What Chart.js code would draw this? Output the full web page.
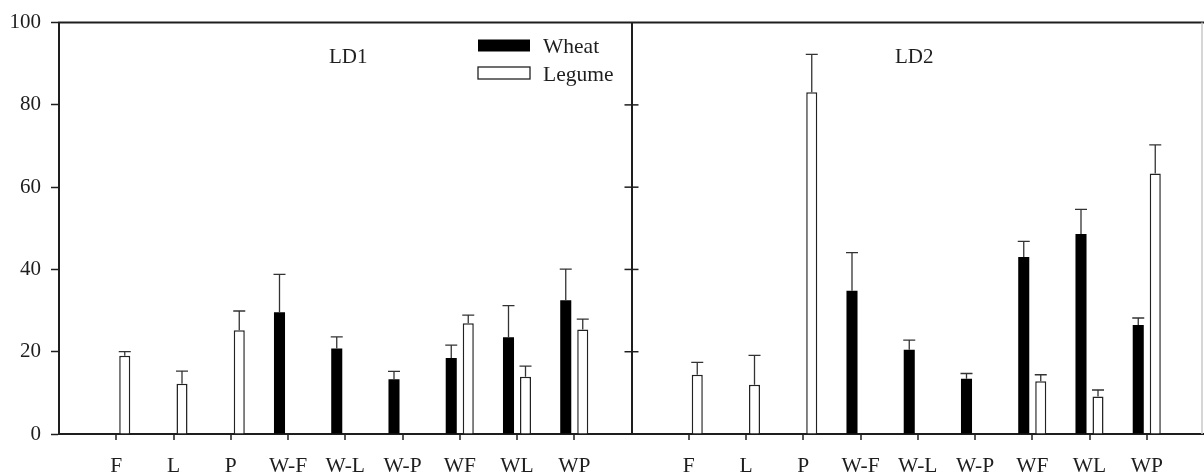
<!DOCTYPE html>
<html>
<head>
<meta charset="utf-8">
<script src="https://cdn.jsdelivr.net/npm/chart.js@4"></script>
<style>
  html, body { margin: 0; padding: 0; background: #fff; }
  #wrap { width: 1204px; height: 473px; }
</style>
</head>
<body>
<div id="wrap"><canvas id="chart"></canvas></div>
<script>
const treatments = ["F", "L", "P", "W-F", "W-L", "W-P", "WF", "WL", "WP"];
const yTicks = [0, 20, 40, 60, 80, 100];
const panels = ["LD1", "LD2"];

// LD1 means and standard errors
const ld1Wheat = [null, null, null, 29.6, 20.8, 13.3, 18.5, 23.5, 32.5];
const ld1WheatSE = [null, null, null, 9.2, 2.8, 1.9, 3.1, 7.7, 7.6];
const ld1Legume = [19.0, 12.2, 25.2, null, null, null, 26.9, 13.9, 25.4];
const ld1LegumeSE = [1.0, 3.1, 4.7, null, null, null, 2.0, 2.6, 2.5];

// LD2 means and standard errors
const ld2Wheat = [null, null, null, 34.8, 20.5, 13.4, 43.0, 48.6, 26.5];
const ld2WheatSE = [null, null, null, 9.3, 2.3, 1.3, 3.8, 6.0, 1.7];
const ld2Legume = [14.4, 12.0, 83.1, null, null, null, 12.8, 9.1, 63.3];
const ld2LegumeSE = [3.0, 7.1, 9.2, null, null, null, 1.6, 1.6, 7.0];

// both panels share one axis: blank slot, LD1, blank divider, LD2, blank slot
const join = (a, b) => [null, ...a, null, ...b, null];
const labels = ["", ...treatments, "", ...treatments, ""];

const ink = "#1e1e1e";
const serif = "Liberation Serif";

const extras = {
    id: "extras",
    afterDatasetsDraw(chart) {
        const ctx = chart.ctx;
        const area = chart.chartArea;
        const x = chart.scales.x;
        const y = chart.scales.y;

        // error bars (upper half only)
        ctx.save();
        ctx.strokeStyle = "#333";
        ctx.lineWidth = 1.3;
        chart.data.datasets.forEach((ds, i) => {
            const meta = chart.getDatasetMeta(i);
            ds.data.forEach((v, j) => {
                if (v == null) return;
                const el = meta.data[j];
                const top = y.getPixelForValue(v + ds.se[j]);
                ctx.beginPath();
                ctx.moveTo(el.x, el.y);
                ctx.lineTo(el.x, top);
                ctx.moveTo(el.x - 6, top);
                ctx.lineTo(el.x + 6, top);
                ctx.stroke();
            });
        });
        ctx.restore();

        // frame: top line, faint right edge, ticks across the divider
        ctx.save();
        ctx.strokeStyle = ink;
        ctx.lineWidth = 2;
        ctx.beginPath();
        ctx.moveTo(area.left - 1, area.top);
        ctx.lineTo(chart.width, area.top);
        ctx.stroke();

        const mid = x.getPixelForValue(10);
        ctx.lineWidth = 1.5;
        yTicks.slice(1, -1).forEach(v => {
            const py = y.getPixelForValue(v);
            ctx.beginPath();
            ctx.moveTo(mid - 7, py);
            ctx.lineTo(mid + 7, py);
            ctx.stroke();
        });

        ctx.strokeStyle = "#c8c8c8";
        ctx.beginPath();
        ctx.moveTo(area.right - 2, area.top);
        ctx.lineTo(area.right - 2, area.bottom);
        ctx.stroke();
        ctx.restore();

        // panel titles
        ctx.save();
        ctx.fillStyle = ink;
        ctx.font = "21px '" + serif + "'";
        ctx.textAlign = "center";
        ctx.textBaseline = "alphabetic";
        ctx.fillText(panels[0], x.getPixelForValue(5) + 3, 63);
        ctx.fillText(panels[1], x.getPixelForValue(15) - 3.5, 63);

        // legend
        ctx.font = "21.5px '" + serif + "'";
        const lx = 478, lw = 52;
        const rows = [[39.5, 12], [67, 12]];
        chart.data.datasets.forEach((ds, i) => {
            const [ry, rh] = rows[i];
            ctx.fillStyle = ds.backgroundColor;
            ctx.fillRect(lx, ry, lw, rh);
            if (ds.borderWidth) {
                ctx.strokeStyle = ds.borderColor;
                ctx.lineWidth = 1.3;
                ctx.strokeRect(lx, ry, lw, rh);
            }
            ctx.fillStyle = ink;
            ctx.textAlign = "left";
            ctx.fillText(ds.label, 543, ry + rh + 1.5);
        });
        ctx.restore();
    }
};

new Chart(document.getElementById("chart"), {
    type: "bar",
    data: {
        labels: labels,
        datasets: [
            {
                label: "Wheat",
                data: join(ld1Wheat, ld2Wheat),
                se: join(ld1WheatSE, ld2WheatSE),
                backgroundColor: "#000",
                borderWidth: 0
            },
            {
                label: "Legume",
                data: join(ld1Legume, ld2Legume),
                se: join(ld1LegumeSE, ld2LegumeSE),
                backgroundColor: "#fff",
                borderColor: "#222",
                borderWidth: 1.5
            }
        ]
    },
    options: {
        responsive: true,
        maintainAspectRatio: false,
        animation: false,
        devicePixelRatio: 1,
        categoryPercentage: 0.594,
        barPercentage: 0.65,
        layout: { padding: { top: 21, right: 0, left: 0, bottom: 0 } },
        plugins: {
            legend: { display: false },
            tooltip: { enabled: false }
        },
        scales: {
            x: {
                type: "category",
                offset: false,
                grid: {
                    offset: false,
                    drawOnChartArea: true,
                    color: c => c.index === 10 ? ink : "transparent",
                    lineWidth: 2,
                    tickColor: c => c.index % 10 === 0 ? "transparent" : ink,
                    tickLength: 6,
                    tickWidth: 1.5
                },
                border: { color: ink, width: 2 },
                ticks: {
                    autoSkip: false,
                    maxRotation: 0,
                    padding: 13,
                    color: ink,
                    font: { family: serif, size: 21.5 }
                },
                afterFit: s => {
                    s.height = 39;
                    s.paddingLeft = 0;
                    s.paddingRight = 0;
                }
            },
            y: {
                min: 0,
                max: 100,
                afterBuildTicks: s => { s.ticks = yTicks.map(v => ({ value: v })); },
                grid: {
                    drawOnChartArea: false,
                    tickLength: 8,
                    tickColor: ink,
                    tickWidth: 1.5
                },
                border: { color: ink, width: 2 },
                ticks: {
                    padding: 10,
                    color: ink,
                    font: { family: serif, size: 21 }
                },
                afterFit: s => { s.width = 59; }
            }
        }
    },
    plugins: [extras]
});
</script>
</body>
</html>
